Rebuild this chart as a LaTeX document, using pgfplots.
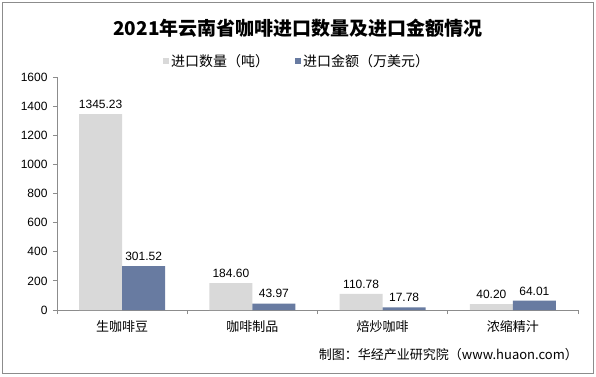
\documentclass[border=0pt]{standalone}
\usepackage{fontspec}
\setmainfont{Liberation Sans}
\newfontfamily\cjk{Noto Sans CJK SC}
\usepackage{pgfplots}
\pgfplotsset{compat=1.18}
\definecolor{qgray}{HTML}{D9D9D9}
\definecolor{qblue}{HTML}{687BA1}
\definecolor{axgray}{HTML}{8C8C8C}
\begin{document}
\begin{tikzpicture}
\path[fill=white] (-57pt,-66pt) rectangle (539pt,310pt);
\draw[axgray, line width=0.8pt] (-55pt,-63pt) rectangle (536pt,308pt);
\begin{axis}[
  at={(0pt,0pt)}, anchor=south west,
  scale only axis, width=521pt, height=233pt,
  xmin=-0.5, xmax=3.5, ymin=0, ymax=1600,
  ytick={0,200,...,1600},
  xtick={0,1,2,3},
  xticklabels={生咖啡豆,咖啡制品,焙炒咖啡,浓缩精汁},
  minor xtick={-0.5,0.5,1.5,2.5,3.5},
  major x tick style={draw=none},
  minor x tick style={draw=axgray, line width=0.8pt},
  y tick style={draw=axgray, line width=0.8pt},
  major tick length=4pt, minor tick length=4pt,
  tick align=outside, tick pos=left,
  axis x line*=bottom, axis y line*=left,
  axis line style={draw=axgray, line width=0.8pt, -},
  /pgf/number format/assume math mode=true,
  /pgf/number format/1000 sep={},
  y tick label style={font=\fontsize{12}{14}\selectfont, xshift=-2pt},
  x tick label style={font=\cjk\fontsize{13}{15}\selectfont, yshift=-3pt},
  ybar, bar width=43pt,
  clip=false,
  nodes near coords={\pgfmathprintnumber[fixed,precision=2,zerofill,1000 sep={},assume math mode=true]{\pgfplotspointmeta}},
  every node near coord/.append style={font=\fontsize{12}{14}\selectfont, color=black, yshift=2pt},
  legend style={at={(0.4607,1.0687)}, anchor=center, draw=none, fill=none,
    font=\cjk\fontsize{14}{16}\selectfont, legend columns=2,
    /tikz/every even column/.append style={column sep=24pt},
    inner sep=0pt},
  legend cell align=left,
]
\addplot[fill=qgray, draw=none, bar shift=-21.5pt,
  legend image code/.code={\fill[qgray] (2pt,-3pt) rectangle (8pt,3pt);}]
  coordinates {(0,1345.23) (1,184.60) (2,110.78) (3,40.20)};
\addplot[fill=qblue, draw=none, bar shift=21.5pt,
  legend image code/.code={\fill[qblue] (2pt,-3pt) rectangle (8pt,3pt);}]
  coordinates {(0,301.52) (1,43.97) (2,17.78) (3,64.01)};
\legend{进口数量（吨）,进口金额（万美元）}
\end{axis}
\node[font=\cjk\bfseries\fontsize{19}{21}\selectfont] at (241pt,282pt) {2021年云南省咖啡进口数量及进口金额情况};
\node[font=\cjk\fontsize{13}{15}\selectfont, anchor=east, inner sep=0pt] at (521pt,-45pt) {制图：华经产业研究院（www.huaon.com）};
\end{tikzpicture}
\end{document}
